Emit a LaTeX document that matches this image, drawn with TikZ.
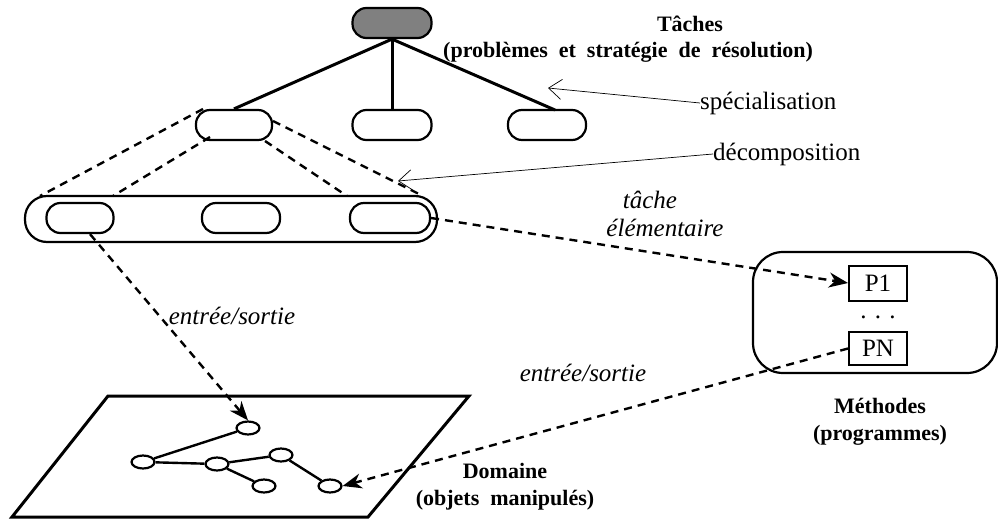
\documentclass[tikz,border=0pt]{standalone}
\usepackage{fontspec}
\setmainfont{Liberation Serif}
\usetikzlibrary{arrows.meta,shapes.geometric}
\begin{document}
\begin{tikzpicture}[x=1pt,y=-1pt,
  pill/.style={draw,line width=2.2pt,rounded corners=14pt,minimum width=#1,minimum height=30pt,inner sep=0pt},
  pill/.default=76pt,
  treeedge/.style={line width=3pt},
  proj/.style={line width=2.4pt,dash pattern=on 8pt off 6pt},
  dasharrow/.style={line width=2.4pt,dash pattern=on 8pt off 6pt,-{Stealth[length=19pt,width=15pt,inset=6pt]}},
  thinarrow/.style={line width=0.7pt,-{Straight Barb[length=13pt,width=20pt,line width=0.7pt]}},
  lbl/.style={font=\fontsize{25}{29}\selectfont,inner sep=0pt},
  ilbl/.style={font=\fontsize{25}{29}\selectfont\itshape,inner sep=0pt},
  blbl/.style={font=\fontsize{22}{26}\selectfont\bfseries,inner sep=0pt},
  gnode/.style={draw,ellipse,line width=2.2pt,minimum width=23pt,minimum height=13pt,inner sep=0pt},
  prog/.style={draw,line width=2pt,minimum width=58pt,minimum height=35pt,inner sep=0pt,font=\fontsize{25}{29}\selectfont}
]
\useasboundingbox (0,0) rectangle (998,519);

% top task
\node[pill=79pt,fill=black!50] (T) at (392,23) {};
\node[blbl,anchor=base] (tt) at (690,32) {Tâches};
\node[blbl,anchor=base west] (ts) at (443,57) {(problèmes\ \ et\ \ stratégie\ \ de\ \ résolution)};

% second level
\node[pill] (A) at (234,125) {};
\node[pill=79pt] (B) at (392,125) {};
\node[pill=78pt] (Cc) at (547,125) {};
\draw[treeedge] (T.south) -- (A.north);
\draw[treeedge] (T.south) -- (B.north);
\draw[treeedge] (T.south) -- (555,110);

% container
\node[draw,line width=2.2pt,rounded corners=22pt,minimum width=412pt,minimum height=46pt,inner sep=0pt] (K) at (231,219) {};
\node[pill=67pt] (K1) at (80,218) {};
\node[pill=78pt] (K2) at (241,218) {};
\node[pill=80pt] (K3) at (390,218) {};

% projection dashed lines
\coordinate (k1) at (40,196);
\coordinate (k2) at (113,196);
\coordinate (k3) at (347,196);
\coordinate (k4) at (423,196);
\draw[proj] (203,109) -- (k1);
\draw[proj] (210,137) -- (k2);
\draw[proj] (265,141) -- (k3);
\draw[proj] (273,121) -- (k4);

% annotation arrows
\node[lbl,anchor=west] (spec) at (700,103) {spécialisation};
\node[lbl,anchor=west] (deco) at (713,154) {décomposition};
\coordinate (sp) at (548,88);
\coordinate (dc) at (398,181);
\draw[thinarrow] (spec.west) -- (sp);
\draw[thinarrow] (deco.west) -- (dc);

% methods
\node[draw,line width=2.2pt,rounded corners=30pt,minimum width=244pt,minimum height=121pt,inner sep=0pt] (M) at (875,312.5) {};
\node[prog] (P1) at (878,283) {P1};
\node[prog,minimum height=33pt] (PN) at (878,348.5) {PN};
\node[lbl,anchor=base,text height=4pt,text depth=0pt] (dots) at (878,318) {.\,\,.\,\,.};
\node[blbl,anchor=base] (mt) at (880,413) {Méthodes};
\node[blbl,anchor=base] (ms) at (880,440) {(programmes)};

\node[ilbl] (t1) at (650,200) {tâche};
\node[ilbl] (t2) at (665,228) {élémentaire};
\draw[dasharrow] (K3.east) -- (P1.west);

% domain
\draw[line width=3pt] (108,396) -- (469,396) -- (368,517) -- (12,517) -- cycle;
\node[gnode] (g1) at (248,428) {};
\node[gnode] (g2) at (143,462) {};
\node[gnode] (g3) at (217,464) {};
\node[gnode] (g4) at (281,455) {};
\node[gnode] (g5) at (264,486) {};
\node[gnode] (g6) at (330,486) {};
\draw[line width=2.4pt] (g2) -- (g1);
\draw[line width=2.4pt] (g2) -- (g3);
\draw[line width=2.4pt] (g3) -- (g4);
\draw[line width=2.4pt] (g4) -- (g6);
\draw[line width=2.4pt] (g3) -- (g5);
\node[blbl,anchor=base] (dt) at (505,478) {Domaine};
\node[blbl,anchor=base] (ds) at (505,505) {(objets\ \ manipulés)};

\node[ilbl] (e1) at (232,316) {entrée/sortie};
\node[ilbl] (e2) at (583,373) {entrée/sortie};
\draw[dasharrow] (K1.south) ++(10,0) -- (g1.north);
\draw[dasharrow] (PN.west) -- (g6.east);
\end{tikzpicture}
\end{document}
